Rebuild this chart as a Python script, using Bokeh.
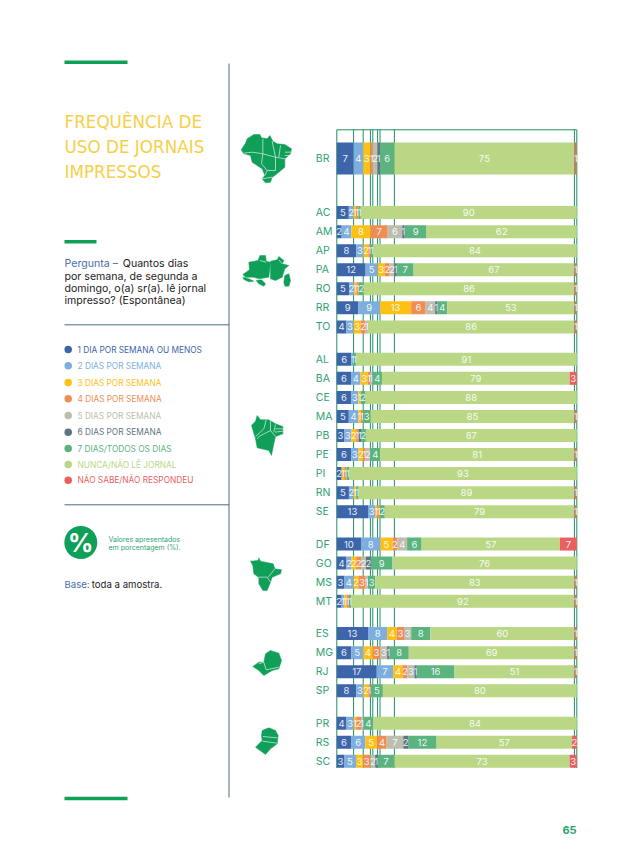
from bokeh.plotting import figure
from bokeh.models import Range1d, ColumnDataSource
from bokeh.layouts import row
from bokeh.core.properties import value
from bokeh.embed import file_html
from bokeh.resources import INLINE

FONT = "Inter"
WIDE = "DejaVu Sans"

series = ["1 DIA POR SEMANA OU MENOS", "2 DIAS POR SEMANA", "3 DIAS POR SEMANA", "4 DIAS POR SEMANA",
          "5 DIAS POR SEMANA", "6 DIAS POR SEMANA", "7 DIAS/TODOS OS DIAS", "NUNCA/NÃO LÊ JORNAL",
          "NÃO SABE/NÃO RESPONDEU"]
colors = ["#3d65a9", "#7eaedd", "#fcc117", "#ef8d54", "#bdbdb0", "#5f7286", "#5bb37f", "#b9d785", "#ea5f62"]

groups = [
    ["BR"],
    ["AC", "AM", "AP", "PA", "RO", "RR", "TO"],
    ["AL", "BA", "CE", "MA", "PB", "PE", "PI", "RN", "SE"],
    ["DF", "GO", "MS", "MT"],
    ["ES", "MG", "RJ", "SP"],
    ["PR", "RS", "SC"],
]

BR = [7, 4, 3, 1, 2, 1, 6, 75, 1]
AC = [5, 2, 1, 1, 0, 0, 1, 90, 0]
AM = [2, 4, 8, 7, 6, 1, 9, 62, 0]
AP = [8, 3, 2, 1, 0, 0, 1, 84, 0]
PA = [12, 5, 3, 2, 2, 1, 7, 67, 1]
RO = [5, 2, 1, 1, 0, 0, 2, 86, 1]
RR = [9, 9, 13, 6, 4, 1, 4, 53, 1]
TO = [4, 3, 3, 2, 1, 0, 0, 86, 1]
AL = [6, 1, 0, 0, 0, 0, 1, 91, 0]
BA = [6, 4, 3, 1, 1, 0, 4, 79, 3]
CE = [6, 3, 1, 0, 0, 0, 2, 88, 0]
MA = [5, 4, 1, 1, 0, 0, 3, 85, 1]
PB = [3, 3, 2, 1, 0, 1, 2, 87, 0]
PE = [6, 3, 2, 1, 2, 0, 4, 81, 1]
PI = [2, 0, 1, 1, 0, 0, 1, 93, 0]
RN = [5, 2, 1, 0, 0, 0, 1, 89, 1]
SE = [13, 3, 1, 1, 0, 0, 2, 79, 1]
DF = [10, 8, 5, 2, 4, 0, 6, 57, 7]
GO = [4, 2, 2, 2, 2, 2, 9, 76, 0]
MS = [3, 4, 2, 3, 1, 0, 3, 83, 1]
MT = [2, 1, 1, 1, 0, 0, 1, 92, 1]
ES = [13, 8, 4, 3, 3, 0, 8, 60, 1]
MG = [6, 5, 4, 3, 3, 1, 8, 69, 1]
RJ = [17, 7, 4, 2, 3, 1, 16, 51, 1]
SP = [8, 3, 2, 1, 0, 0, 5, 80, 0]
PR = [4, 3, 1, 2, 1, 0, 4, 84, 0]
RS = [6, 6, 5, 4, 7, 2, 12, 57, 2]
SC = [3, 5, 3, 3, 2, 1, 7, 73, 3]

table = dict(BR=BR, AC=AC, AM=AM, AP=AP, PA=PA, RO=RO, RR=RR, TO=TO, AL=AL, BA=BA, CE=CE, MA=MA, PB=PB, PE=PE,
             PI=PI, RN=RN, SE=SE, DF=DF, GO=GO, MS=MS, MT=MT, ES=ES, MG=MG, RJ=RJ, SP=SP, PR=PR, RS=RS, SC=SC)

# ---------- layout constants (page pixels) ----------
PAGE_L, PAGE_T, PAGE_R, PAGE_B = 0, 0, 638, 862
SPLIT = 305
BAR0, BAR_PX = 336.3, 2.4     # px of 0 %, px per 1 %
Y0, ROW_PX = 158.0, 19.05     # px of BR row, px per row
GROUP_GAPS = [0, 2.84, 1.7, 1.7, 1.7, 1.7]

xp = lambda px: (px - BAR0) / BAR_PX
yp = lambda py: (py - Y0) / ROW_PX

# ---------- row positions ----------
rows, ys = [], []
y = 0.0
for g, gap in zip(groups, GROUP_GAPS):
    y += gap
    for i, name in enumerate(g):
        rows.append(name)
        ys.append(y)
        y += 1
    y -= 1

# ---------- right figure: the chart ----------
c = figure(width=PAGE_R - SPLIT, height=PAGE_B - PAGE_T, output_backend="svg", toolbar_location=None,
           x_range=Range1d(xp(SPLIT), xp(PAGE_R)), y_range=Range1d(yp(PAGE_B), yp(PAGE_T)),
           min_border_left=0, min_border_right=0, min_border_top=0, min_border_bottom=0)
c.outline_line_color = None
c.grid.visible = False
c.axis.visible = False

# row names
c.text(x=[xp(315.3)] * len(rows), y=ys, text=rows, text_color="#2fa36f", text_font=value(FONT),
       text_font_size="10.5px", text_align="left", text_baseline="middle")

# reference lines at the cumulative Brazil values
line_x = [0]
for v in BR:
    line_x.append(line_x[-1] + v)
c.segment(x0=line_x, x1=line_x, y0=[yp(129.3)] * len(line_x), y1=[yp(767.5)] * len(line_x),
          line_color="#1f8f5f", line_width=1)
c.segment(x0=[0], x1=[100], y0=[yp(129.3)], y1=[yp(129.3)], line_color="#1f8f5f", line_width=1)

THIN, TALL = 13 / ROW_PX, 32 / ROW_PX
for k, (sname, col) in enumerate(zip(series, colors)):
    left, right, yy, hh, cc = [], [], [], [], []
    tx, ty, tt = [], [], []
    for name, yv in zip(rows, ys):
        vals = table[name]
        tot = sum(vals)
        a = sum(vals[:k]) / tot * 100
        b = sum(vals[:k + 1]) / tot * 100
        if vals[k] > 0:
            left.append(a); right.append(b); yy.append(yv)
            hh.append(TALL if name == "BR" else THIN)
            # the thinnest red slivers read darker, blended with the rule lines
            cc.append("#c47b5e" if k == 8 and vals[k] == 1 else col)
            tx.append((a + b) / 2); ty.append(yv); tt.append(str(vals[k]))
    src = ColumnDataSource(dict(left=left, right=right, y=yy, h=hh, c=cc))
    c.hbar(y="y", left="left", right="right", height="h", source=src, fill_color="c", line_color=None)
    c.text(x=tx, y=ty, text=tt, text_color="#ffffff", text_alpha=0.92, text_font=value(FONT),
           text_font_size="9.5px", text_align="center", text_baseline="middle")

c.text(x=[xp(569)], y=[yp(829)], text=["65"], text_color="#2fa36f", text_font=value(FONT),
       text_font_size="11px", text_font_style="bold", text_align="center", text_baseline="middle")

# ---------- left figure: title, legend, notes, maps ----------
d = figure(width=SPLIT - PAGE_L, height=PAGE_B - PAGE_T, output_backend="svg", toolbar_location=None,
           x_range=Range1d(PAGE_L, SPLIT), y_range=Range1d(PAGE_B, PAGE_T),
           min_border_left=0, min_border_right=0, min_border_top=0, min_border_bottom=0)
d.outline_line_color = None
d.grid.visible = False
d.axis.visible = False


def txt(x, y, s, color, size, font=FONT):
    d.text(x=[x], y=[y], text=[s], text_color=color, text_font=value(font), text_font_size=f"{size}px",
           text_baseline="middle")


GREEN = "#0f9f58"
NAVY = "#4d6a80"
d.segment(x0=[64, 64, 64], x1=[127, 96, 127], y0=[61.7, 241.3, 798], y1=[61.7, 241.3, 798],
          line_color=GREEN, line_width=3.5)
d.segment(x0=[228.5, 64, 64], x1=[228.5, 228.5, 228.5], y0=[63, 324.3, 504.3], y1=[797, 324.3, 504.3],
          line_color=NAVY, line_width=1)

for i, t in enumerate(["FREQUÊNCIA DE", "USO DE JORNAIS", "IMPRESSOS"]):
    txt(64, 121.7 + 25 * i, t, "#f6cf48", 16.8, WIDE)

txt(64, 263.3, "Pergunta –", "#4a6ea8", 10.6)
txt(122.3, 263.3, "Quantos dias", "#222222", 10.6)
txt(64, 276, "por semana, de segunda a", "#222222", 10.6)
txt(64, 288, "domingo, o(a) sr(a). lê jornal", "#222222", 10.6)
txt(64, 300, "impresso? (Espontânea)", "#222222", 10.6)

leg_y = [349, 365.3, 382, 398.3, 415, 431.7, 448, 464, 479.7]
for ly, s, col in zip(leg_y, series, colors):
    d.scatter(x=[67.7], y=[ly], size=7.5, fill_color=col, line_color=None)
    txt(77, ly, s, col, 8.3)

d.scatter(x=[80.3], y=[542], size=33, fill_color=GREEN, line_color=None)
d.text(x=[80.3], y=[542], text=["%"], text_color="#ffffff", text_font=value(FONT), text_font_size="25px",
       text_font_style="bold", text_align="center", text_baseline="middle")
txt(108, 538.5, "Valores apresentados", "#2fa36f", 7)
txt(108, 547, "em porcentagem (%).", "#2fa36f", 7)
txt(64, 584, "Base:", "#4a6ea8", 9.6)
txt(91.3, 584, "toda a amostra.", "#222222", 9.6)


def shape(origin, pieces, lines=()):
    ox, oy = origin
    xs = [[ox + p[0] / 3 for p in pc] for pc in pieces]
    yy_ = [[oy + p[1] / 3 for p in pc] for pc in pieces]
    d.patches(xs, yy_, fill_color=GREEN, line_color=GREEN, line_width=0.5)
    if lines:
        lx = [[ox + p[0] / 3 for p in ln] for ln in lines]
        ly = [[oy + p[1] / 3 for p in ln] for ln in lines]
        d.multi_line(lx, ly, line_color="#ffffff", line_width=0.6)


# Brazil
shape((225, 120), [[(47, 88), (60, 68), (65, 55), (85, 42), (103, 42), (108, 52), (125, 55), (133, 45), (142, 62),
                    (155, 70), (178, 72), (198, 85), (195, 100), (178, 115), (178, 140), (160, 155), (148, 165),
                    (140, 170), (135, 185), (120, 187), (110, 175), (118, 165), (110, 145), (95, 135), (80, 125),
                    (75, 105), (55, 100)]],
      [[(55, 98), (80, 95), (112, 100), (150, 110), (178, 115)], [(112, 55), (112, 100), (108, 130), (125, 150)],
       [(140, 62), (150, 110), (150, 150), (125, 150), (118, 165)], [(165, 75), (160, 110)],
       [(178, 95), (198, 95)], [(178, 105), (195, 105)], [(110, 175), (140, 170)]])
# North
shape((225, 120), [[(52, 462), (72, 448), (70, 425), (98, 420), (103, 405), (120, 405), (122, 422), (135, 425),
                    (130, 470), (100, 475), (85, 470), (60, 470)],
                   [(52, 470), (70, 475), (85, 482), (70, 484), (55, 477)],
                   [(92, 480), (108, 478), (120, 490), (115, 497), (100, 490)],
                   [(135, 422), (155, 418), (160, 408), (175, 420), (170, 430), (190, 435), (178, 445), (170, 470),
                    (150, 480), (135, 475)],
                   [(178, 465), (190, 460), (195, 480), (190, 497), (178, 497), (175, 485)]],
      [[(103, 420), (122, 425)], [(160, 418), (170, 430)]])
# Northeast
shape((225, 400), [[(78, 75), (90, 62), (95, 45), (105, 58), (130, 58), (150, 70), (172, 78), (172, 100), (150, 108),
                    (145, 130), (138, 165), (130, 150), (95, 142), (90, 115)]],
      [[(122, 58), (115, 85), (90, 108)], [(135, 60), (135, 90), (100, 108), (95, 115)], [(135, 90), (150, 108)],
       [(150, 72), (145, 95)], [(150, 85), (172, 85)], [(148, 95), (172, 92)]])
# Centre-west
shape((225, 400), [[(75, 482), (98, 480), (100, 472), (105, 482), (143, 490), (148, 505), (168, 508), (165, 520),
                    (140, 530), (135, 545), (125, 570), (112, 570), (100, 550), (100, 530), (85, 520), (82, 495)]],
      [[(100, 530), (125, 530), (135, 545)], [(148, 505), (128, 530)]])
# Southeast
shape((225, 400), [[(82, 798), (100, 785), (115, 785), (120, 760), (135, 750), (160, 758), (168, 780), (160, 805),
                    (140, 810), (115, 825), (100, 810)]],
      [[(115, 785), (122, 808), (160, 800)], [(100, 790), (115, 785)]])
# South
shape((225, 400), [[(110, 990), (130, 982), (150, 990), (158, 1005), (155, 1030), (135, 1045), (120, 1062), (90, 1040),
                    (110, 1020), (108, 1005)]],
      [[(112, 1008), (155, 1012)], [(110, 1022), (155, 1028)]])

open("out.html", "w").write(file_html(row(d, c, spacing=0), INLINE))
